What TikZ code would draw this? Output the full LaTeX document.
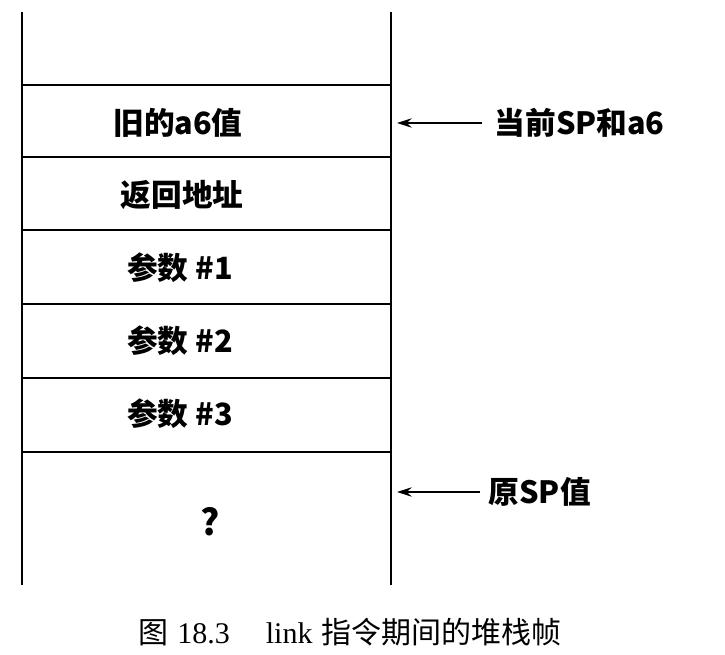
\documentclass[tikz,border=0pt]{standalone}
\usepackage{fontspec}
\usetikzlibrary{arrows.meta}
\usetikzlibrary{positioning}
\newfontfamily\hei{Noto Sans CJK SC}
\newfontfamily\romn{Liberation Serif}

\begin{document}
\begin{tikzpicture}[x=0.75pt,y=-0.75pt,
		cell/.style={font=\hei\bfseries\fontsize{23}{27}\selectfont},
		wall/.style={line width=1.8pt},
		ptr/.style={-{Stealth[length=11pt,width=7pt]},line width=1.2pt}]
		\useasboundingbox (0,0) rectangle (725,655);
		% stack frame
		\draw[wall] (22,12) -- (22,585);
		\draw[wall] (391,12) -- (391,585);
		\foreach \y in {85,157,230,304,378,452}
			\draw[wall] (22,\y) -- (391,\y);
		% contents
		\draw (178,123) node[cell] (olda6) {旧的a6值};
		\draw (182,195) node[cell] (ret) {返回地址};
		\draw (180,268) node[cell] (arga) {参数 \#1};
		\draw (180,341) node[cell] (argb) {参数 \#2};
		\draw (180,414) node[cell] (argc) {参数 \#3};
		\draw (210,522) node[cell,font=\hei\bfseries\fontsize{27}{30}\selectfont] (unk) {?};
		% pointers
		\coordinate (sptop) at (397,123);
		\coordinate (spold) at (397,492);
		\draw (490,123) node[cell,anchor=west] (cursp) {当前SP和a6};
		\draw (484,492) node[cell,anchor=west] (oldsp) {原SP值};
		\draw[ptr] ([xshift=-6pt]cursp.west) -- (sptop);
		\draw[ptr] ([xshift=-3pt]oldsp.west) -- (spold);
		% caption
		\draw (350,632) node[font=\fontsize{22.5}{26}\selectfont] (cap) {{\hei 图} {\romn 18.3}\hspace{1.2em}{\romn link} {\hei 指令期间的堆栈帧}};
	\end{tikzpicture}
\end{document}
